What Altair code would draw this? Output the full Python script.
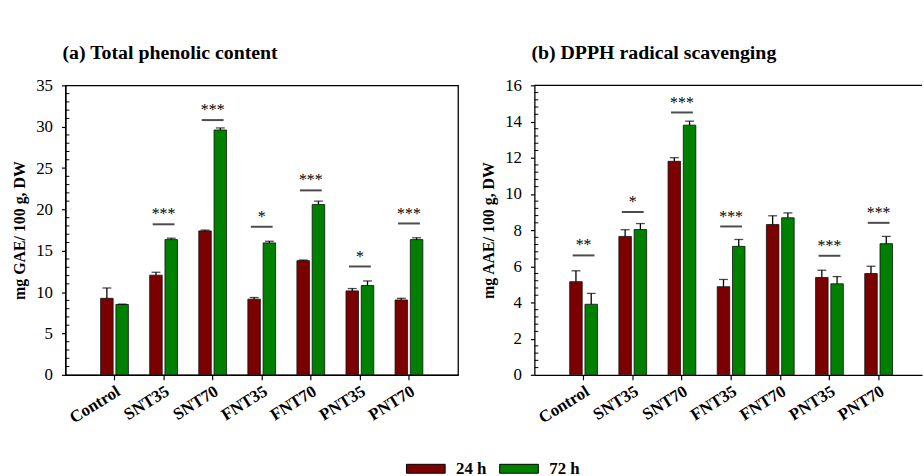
import altair as alt
import pandas as pd

# Treatments and sampling times
categories = ["Control", "SNT35", "SNT70", "FNT35", "FNT70", "PNT35", "PNT70"]
times = ["24 h", "72 h"]
colors = ["#7b0000", "#008000"]

# (a) Total phenolic content, mg GAE / 100 g DW
tpc_24 = [9.25, 12.05, 17.4, 9.15, 13.8, 10.15, 9.05]
tpc_24_err = [1.25, 0.35, 0.1, 0.2, 0.08, 0.28, 0.2]
tpc_72 = [8.5, 16.35, 29.6, 15.95, 20.6, 10.8, 16.35]
tpc_72_err = [0.05, 0.17, 0.25, 0.2, 0.4, 0.55, 0.22]
tpc_stars = ["", "***", "***", "*", "***", "*", "***"]
tpc_star_level = [0, 18.2, 30.8, 17.9, 22.3, 13.1, 18.3]

# (b) DPPH radical scavenging, mg AAE / 100 g DW
dpph_24 = [5.15, 7.65, 11.8, 4.87, 8.31, 5.38, 5.6]
dpph_24_err = [0.6, 0.37, 0.2, 0.4, 0.48, 0.4, 0.4]
dpph_72 = [3.9, 8.03, 13.8, 7.1, 8.68, 5.03, 7.25]
dpph_72_err = [0.6, 0.33, 0.22, 0.38, 0.27, 0.4, 0.4]
dpph_stars = ["**", "*", "***", "***", "", "***", "***"]
dpph_star_level = [6.6, 9.0, 14.5, 8.2, 0, 6.58, 8.4]

SERIF = "Liberation Serif"
PANEL_H = 292


def bar_table(v24, e24, v72, e72):
    rows = []
    for i, c in enumerate(categories):
        rows.append({"cat": c, "time": times[0], "value": v24[i], "upper": v24[i] + e24[i]})
        rows.append({"cat": c, "time": times[1], "value": v72[i], "upper": v72[i] + e72[i]})
    return pd.DataFrame(rows)


def star_table(levels, stars):
    return pd.DataFrame(
        [{"cat": c, "level": l, "stars": s} for c, l, s in zip(categories, levels, stars) if s]
    )


def panel(bars, sig, title, ytitle, ymax, ystep, minor_step, width, x_scale, box):
    x = alt.X(
        "cat:N", sort=categories, scale=x_scale,
        axis=alt.Axis(title=None, labelAngle=328, labelAlign="right", labelBaseline="top",
                      labelFontWeight="bold", labelFontSize=17, labelPadding=3, tickSize=5),
    )
    y_scale = alt.Scale(domain=[0, ymax], nice=False)
    majors = list(range(0, ymax + 1, ystep))
    y_axis = alt.Axis(title=ytitle, values=majors, tickSize=4, labelPadding=9, titlePadding=8)

    def y(field):
        return alt.Y(field, scale=y_scale, axis=y_axis)

    xo = alt.XOffset("time:N", sort=times, scale=alt.Scale(paddingInner=0.18))

    base = alt.Chart(bars)
    bar = base.mark_bar(stroke="#111111", strokeWidth=0.8).encode(
        x=x, xOffset=xo, y=y("value:Q"),
        color=alt.Color(
            "time:N", scale=alt.Scale(domain=times, range=colors),
            legend=alt.Legend(title=None, orient="none", legendX=370, legendY=378,
                              direction="horizontal", symbolType="M-7.67,-1H1V1H-7.67Z",
                              symbolSize=81, symbolStrokeColor="black", symbolStrokeWidth=1,
                              symbolOpacity=1, labelFont=SERIF, labelFontSize=17,
                              labelFontWeight="bold", labelColor="black", labelOffset=7,
                              columnPadding=10),
        ),
    )
    err = base.mark_rule(color="black", strokeWidth=1.3).encode(
        x=x, xOffset=xo, y=y("value:Q"), y2="upper:Q"
    )
    cap = base.mark_tick(color="black", size=9, thickness=1.3).encode(
        x=x, xOffset=xo, y=y("upper:Q")
    )
    sline = alt.Chart(sig).mark_tick(color="black", size=22, thickness=2).encode(
        x=x, y=y("level:Q")
    )
    stxt = alt.Chart(sig).mark_text(font=SERIF, fontSize=16, dy=-5, baseline="alphabetic",
                                    color="black").encode(
        x=x, y=y("level:Q"), text="stars:N"
    )
    n_minor = int(round(ymax / minor_step))
    minor_vals = [round(k * minor_step, 3) for k in range(n_minor + 1)
                  if abs((k * minor_step) / ystep - round((k * minor_step) / ystep)) > 1e-6]
    minor = alt.Chart(pd.DataFrame({"m": minor_vals})).mark_rule(
        color="black", strokeWidth=1).encode(
        y=y("m:Q"), x=alt.value(0), x2=alt.value(4)
    )
    layers = [bar, err, cap, sline, stxt, minor]
    if box:
        view = alt.ViewBackground(stroke="black", strokeWidth=1.3)
    else:
        view = alt.ViewBackground(stroke="transparent")
        top = alt.Chart(pd.DataFrame({"m": [ymax]})).mark_rule(
            color="black", strokeWidth=1.3).encode(
            y=y("m:Q"), x=alt.value(0), x2=alt.value(width)
        )
        layers.append(top)
    return alt.layer(*layers).properties(
        width=width, height=PANEL_H, view=view,
        title=alt.TitleParams(title, anchor="start", frame="group", font=SERIF, fontSize=20,
                              fontWeight="bold", color="black", offset=14, dx=-3),
    )


left = panel(
    bar_table(tpc_24, tpc_24_err, tpc_72, tpc_72_err),
    star_table(tpc_star_level, tpc_stars),
    "(a) Total phenolic content", "mg GAE/ 100 g, DW", 35, 5, 1, 396,
    alt.Scale(paddingInner=0.434, paddingOuter=0.717), True,
)
right = panel(
    bar_table(dpph_24, dpph_24_err, dpph_72, dpph_72_err),
    star_table(dpph_star_level, dpph_stars),
    "(b) DPPH radical scavenging", "mg AAE/ 100 g, DW", 16, 2, 0.4, 391,
    alt.Scale(paddingInner=0.435, paddingOuter=0.659, align=0.545), False,
)

chart = alt.hconcat(left, right, spacing=21).properties(
    padding={"left": 11, "top": 40, "right": 0, "bottom": 0},
    background="white",
).configure_axis(
    labelFont=SERIF, labelFontSize=17, labelColor="black",
    titleFont=SERIF, titleFontSize=16, titleFontWeight="bold", titleColor="black",
    domainColor="black", domainWidth=1.3, tickColor="black", tickWidth=1.2, grid=False,
).configure_view(stroke="black")

chart.save("out.html", embed_options={"renderer": "svg", "actions": False})
